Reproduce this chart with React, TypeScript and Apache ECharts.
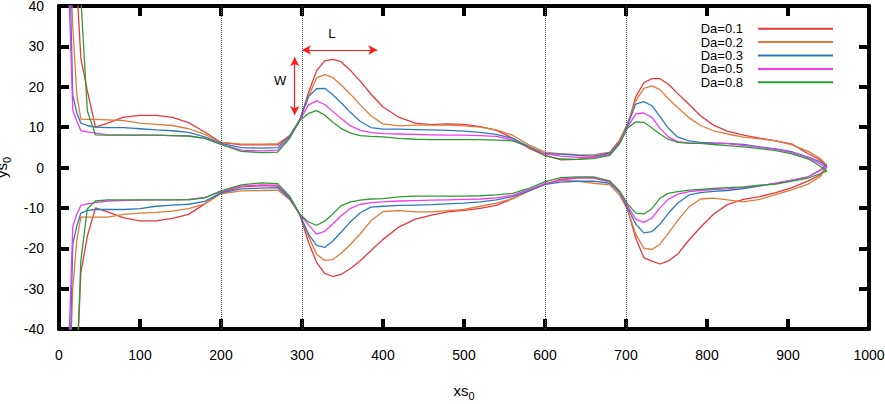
import React, { useEffect, useRef } from "react";
import * as echarts from "echarts";

const xs = [12, 17, 22, 27, 35, 45, 60, 80, 100, 120, 140, 160, 180, 200, 225, 250, 270, 285, 297, 308, 318, 328, 338, 348, 360, 372, 385, 400, 420, 440, 460, 480, 500, 520, 540, 560, 580, 600, 620, 640, 660, 680, 692, 702, 712, 722, 732, 742, 752, 764, 778, 792, 808, 825, 845, 865, 885, 905, 925, 940, 948];

const daLabels = ["Da=0.1", "Da=0.2", "Da=0.3", "Da=0.5", "Da=0.8"];
const colors = ["#e8383d", "#e07b39", "#2c7bbf", "#f03cf0", "#2e9b33"];

const upper01 = [60, 60, 45, 27, 19, 10, 11, 12.5, 12.9, 12.9, 12.4, 11.1, 8.8, 6.2, 5.6, 5.6, 5.6, 7.8, 11.5, 18.5, 24, 26.4, 26.8, 26.2, 24.0, 21.4, 18.2, 15.0, 12.4, 11.0, 10.6, 10.8, 10.7, 10.1, 9.2, 7.3, 4.8, 3.0, 1.9, 2.0, 2.5, 3.5, 6.8, 10.5, 17.5, 21, 22, 22, 20.7, 18.3, 15.6, 12.8, 10.5, 9.0, 8.0, 7.3, 6.6, 5.8, 3.4, 1.8, 0.3];
const upper02 = [60, 35, 18, 12, 11.9, 11.9, 11.8, 11.6, 11.0, 10.7, 10.4, 9.6, 8.2, 6.2, 5.8, 5.8, 5.9, 8.0, 11.6, 17.5, 22.2, 23.0, 22.3, 20.5, 18.1, 15.5, 12.8, 10.8, 10.3, 10.5, 10.5, 10.5, 10.3, 10.0, 9.3, 8.0, 5.6, 3.8, 3.4, 3.2, 3.1, 3.8, 6.7, 11, 16.5, 19.6, 20.2, 19.3, 17.1, 14.8, 12.3, 10.4, 9.1, 8.3, 7.5, 7.1, 6.6, 5.6, 4.0, 2.2, 0.6];
const upper03 = [60, 18, 13.5, 11.0, 10.4, 10.0, 9.9, 9.9, 9.6, 9.3, 9.1, 8.7, 7.6, 6.0, 4.9, 4.8, 4.9, 7.9, 11.8, 17.6, 19.5, 19.6, 18.0, 16.1, 13.6, 11.4, 9.9, 9.5, 9.5, 9.4, 9.3, 9.2, 9.0, 8.7, 8.2, 7.2, 5.2, 3.4, 3.3, 3.0, 2.8, 3.6, 6.2, 10.5, 15.7, 16.3, 15.3, 12.6, 9.8, 7.5, 6.6, 6.2, 6.1, 6.0, 5.7, 5.1, 4.6, 3.9, 2.6, 1.4, 0.2];
const upper05 = [45, 14.2, 11.5, 9.1, 8.8, 8.5, 8.1, 8.0, 8.0, 8.0, 7.9, 7.8, 7.2, 5.8, 4.3, 4.1, 4.3, 7.5, 11.6, 15.5, 16.5, 15.6, 13.9, 12.2, 10.3, 9.2, 8.7, 8.4, 8.3, 8.2, 8.1, 8.0, 8.0, 7.9, 7.7, 6.8, 5.0, 3.4, 2.8, 2.5, 2.6, 3.2, 6.0, 10.0, 13.3, 13.5, 12.4, 9.7, 7.6, 6.4, 6.1, 6.0, 6.0, 5.9, 5.5, 5.0, 4.5, 3.7, 2.4, 0.9, -0.2];
const upper08 = [60, 60, 60, 42, 14, 8.1, 8.0, 8.0, 8.0, 8.0, 7.9, 7.8, 7.2, 5.7, 4.0, 3.7, 3.8, 7.3, 11.6, 13.4, 14.1, 13.0, 11.2, 9.7, 8.5, 7.9, 7.7, 7.6, 7.2, 7.0, 6.9, 6.9, 6.9, 6.9, 6.8, 6.6, 5.2, 2.9, 2.1, 2.0, 2.2, 3.0, 5.8, 9.8, 11.3, 11.2, 9.8, 8.3, 7.0, 6.2, 6.0, 6.0, 5.7, 5.4, 5.1, 4.7, 4.2, 3.4, 2.1, 0.3, -0.9];

const lower01 = [-60, -60, -50, -26, -17, -10.0, -11, -12.5, -13.2, -13.2, -12.6, -11.6, -9.0, -6.2, -4.8, -4.5, -4.6, -7.5, -11.5, -18.5, -23.5, -26.2, -27.0, -26.5, -25.0, -23.1, -20.6, -17.8, -14.7, -12.8, -11.8, -11.0, -10.6, -10.1, -9.4, -7.7, -5.8, -4.2, -2.9, -2.5, -2.5, -3.3, -6.0, -10.5, -17.5, -22.3, -23.2, -23.9, -23.2, -21.4, -17.9, -14.8, -11.6, -9.2, -7.9, -7.2, -6.2, -5.0, -3.3, -1.8, 0.3];
const lower02 = [-60, -30, -18, -12.3, -12.3, -12.3, -12.3, -11.6, -11.3, -11.1, -10.8, -10.2, -9.0, -6.5, -5.8, -5.7, -5.6, -8.0, -11.5, -17.0, -21.5, -23.0, -22.8, -21.3, -19.0, -16.4, -13.2, -10.9, -10.7, -11.0, -11.0, -10.7, -10.4, -9.6, -8.8, -7.7, -5.8, -4.0, -3.2, -3.4, -3.9, -4.3, -6.8, -10.5, -16.5, -20.0, -20.3, -19.0, -16.4, -13.1, -9.7, -7.8, -7.6, -8.0, -8.5, -7.9, -6.7, -5.5, -4.1, -2.2, 0.2];
const lower03 = [-60, -19, -14.5, -11.3, -10.6, -10.4, -10.4, -10.4, -10.2, -9.6, -9.3, -9.1, -8.4, -6.3, -5.3, -5.1, -5.0, -7.8, -11.5, -16.5, -19.3, -19.8, -18.2, -16.1, -13.4, -11.2, -9.8, -9.6, -9.4, -9.3, -9.2, -9.0, -8.8, -8.5, -8.0, -7.2, -5.8, -4.2, -3.6, -3.4, -3.4, -3.9, -6.2, -10.0, -14.0, -16.2, -15.9, -14.0, -11.4, -8.8, -6.8, -6.2, -5.9, -5.7, -5.2, -4.6, -3.9, -3.1, -2.3, -0.6, 0.6];
const lower05 = [-45, -14.6, -11.5, -9.4, -9.0, -8.7, -8.3, -8.2, -8.1, -8.0, -8.0, -7.9, -7.4, -6.0, -4.6, -4.3, -4.4, -7.4, -11.5, -14.2, -16.5, -15.8, -14.0, -12.0, -10.1, -9.1, -8.7, -8.5, -8.3, -8.2, -8.1, -8.0, -7.9, -7.8, -7.5, -6.9, -5.5, -4.0, -3.1, -2.6, -2.6, -3.6, -6.0, -9.5, -12.8, -13.6, -12.5, -10.0, -7.9, -6.6, -6.0, -5.7, -5.5, -5.3, -4.9, -4.5, -3.9, -3.1, -2.3, -0.7, 0.2];
const lower08 = [-60, -60, -50, -23, -10.2, -8.3, -8.0, -8.0, -8.0, -8.0, -8.0, -8.0, -7.5, -5.8, -4.3, -3.8, -4.0, -7.2, -11.5, -13.5, -14.3, -13.3, -11.5, -9.5, -8.5, -8.1, -7.8, -7.7, -7.3, -7.1, -7.1, -7.1, -7.1, -7.0, -6.8, -6.4, -5.2, -3.5, -2.5, -2.3, -2.3, -3.4, -5.8, -9.0, -11.3, -11.5, -10.2, -7.6, -6.4, -6.0, -5.6, -5.4, -5.2, -5.0, -4.8, -4.4, -4.1, -3.4, -2.6, -1.5, -0.9];

const upperSets = [upper01, upper02, upper03, upper05, upper08];
const lowerSets = [lower01, lower02, lower03, lower05, lower08];

const dividers = [200, 300, 600, 700];
const wArrow = [[291, 13], [291, 27.3]];
const lArrow = [[300, 29.1], [393, 29.1]];
const wLabel = [273, 21.6];
const lLabel = [337, 33.2];

const FONT = "Liberation Sans";

export default function App() {
  const ref = useRef<HTMLDivElement>(null);
  useEffect(() => {
    const chart = echarts.init(ref.current!, null, { renderer: "svg" });

    const lineSeries: any[] = [];
    daLabels.forEach((name, k) => {
      [upperSets[k], lowerSets[k]].forEach((vals) => {
        lineSeries.push({
          type: "line",
          name,
          data: xs.map((x, i) => [x, vals[i]]),
          symbol: "none",
          showSymbol: false,
          clip: true,
          lineStyle: { color: colors[k], width: 1.3 },
          itemStyle: { color: colors[k] },
          z: 3,
        });
      });
    });

    const redArrow = { color: "#ff1a1a", width: 1.2, type: "solid" };
    lineSeries[0].markLine = {
      silent: true,
      symbol: ["none", "none"],
      symbolSize: [7, 9],
      label: { show: false },
      lineStyle: { color: "#555", width: 1, type: "dotted" },
      data: [
        ...dividers.map((d) => ({ xAxis: d, lineStyle: { color: "#555", width: 1, type: "dotted" } })),
        [
          { coord: wArrow[0], symbol: "arrow", lineStyle: redArrow },
          { coord: wArrow[1], symbol: "arrow" },
        ],
        [
          { coord: lArrow[0], symbol: "arrow", lineStyle: redArrow },
          { coord: lArrow[1], symbol: "arrow" },
        ],
      ],
    };
    lineSeries[0].markPoint = {
      silent: true,
      symbol: "circle",
      symbolSize: 0,
      data: [
        { coord: wLabel, label: { show: true, formatter: "W", position: "inside", color: "#000", fontSize: 13, fontFamily: FONT } },
        { coord: lLabel, label: { show: true, formatter: "L", position: "inside", color: "#000", fontSize: 13, fontFamily: FONT } },
      ],
    };

    const axisLine = { show: true, onZero: false, lineStyle: { color: "#000", width: 4 } };
    const axisTick = { show: true, inside: true, length: 10, lineStyle: { color: "#000", width: 4 } };
    const nameRich = {
      n: { fontSize: 15, fontFamily: FONT, color: "#000", lineHeight: 22, verticalAlign: "middle" },
      s: { fontSize: 11, fontFamily: FONT, color: "#000", lineHeight: 10, verticalAlign: "bottom" },
    };
    const plain = (v: number) => String(v);

    const option: any = {
      animation: false,
      backgroundColor: "#fff",
      grid: { left: 59, right: 16, top: 6, bottom: 75, containLabel: false, outerBoundsMode: "none" },
      legend: {
        data: daLabels,
        orient: "vertical",
        right: 47,
        top: 17,
        align: "right",
        icon: "rect",
        itemWidth: 75,
        itemHeight: 2,
        itemGap: 0,
        selectedMode: false,
        textStyle: { fontSize: 13, fontFamily: FONT, color: "#000", lineHeight: 13.4, padding: [0, 10, 0, 0] },
      },
      xAxis: [
        {
          type: "value",
          min: 0,
          max: 1000,
          interval: 100,
          position: "bottom",
          axisLine,
          axisTick,
          splitLine: { show: false },
          axisLabel: { fontSize: 14, fontFamily: FONT, color: "#000", margin: 19, formatter: plain },
          name: "{n|xs}{s|0}",
          nameLocation: "middle",
          nameGap: 50,
          nameTextStyle: { rich: nameRich },
        },
        {
          type: "value",
          min: 0,
          max: 1000,
          interval: 100,
          position: "top",
          axisLine,
          axisTick,
          splitLine: { show: false },
          axisLabel: { show: false },
        },
      ],
      yAxis: [
        {
          type: "value",
          min: -40,
          max: 40,
          interval: 10,
          position: "left",
          axisLine,
          axisTick,
          splitLine: { show: false },
          axisLabel: { fontSize: 14, fontFamily: FONT, color: "#000", margin: 15, lineHeight: 12, formatter: plain },
          name: "{n|ys}{s|0}",
          nameLocation: "middle",
          nameGap: 33,
          nameRotate: 90,
          nameTextStyle: { rich: nameRich },
        },
        {
          type: "value",
          min: -40,
          max: 40,
          interval: 10,
          position: "right",
          axisLine,
          axisTick,
          splitLine: { show: false },
          axisLabel: { show: false },
        },
      ],
      series: lineSeries,
    };

    chart.setOption(option);
    return () => chart.dispose();
  }, []);

  return (
    <div
      ref={ref}
      style={{ position: "absolute", left: 0, top: 0, width: 885, height: 404, background: "#fff" }}
    />
  );
}
